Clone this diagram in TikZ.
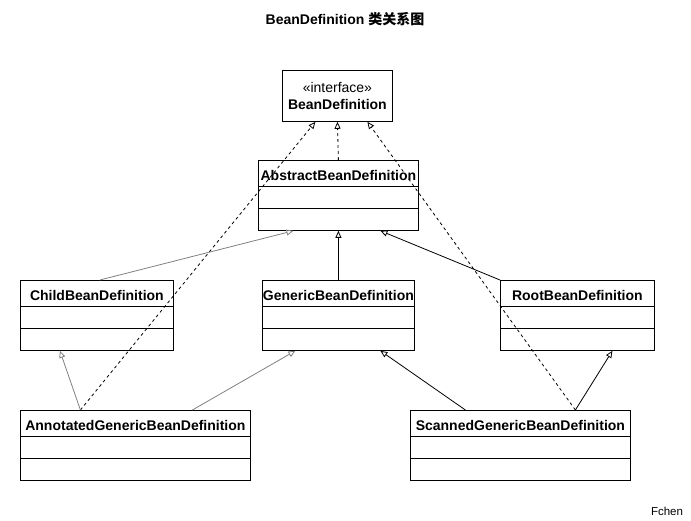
\documentclass[tikz,border=0pt]{standalone}
\usepackage{fontspec}
\setmainfont{Liberation Sans}
\newfontfamily\cjk{Noto Sans CJK SC}
\usepackage{tikz}
\usetikzlibrary{arrows.meta, positioning, calc}

\tikzset{
    umlbox/.style={draw, line width=0.8pt, inner sep=0pt, minimum height=70pt, anchor=north west},
    classname/.style={font=\fontsize{14}{16}\selectfont\bfseries},
    inherit/.style={line width=0.8pt, -{Triangle[open, length=7pt, width=6pt]}},
    realize/.style={inherit, dash pattern=on 3pt off 3pt}
}

\begin{document}
\begin{tikzpicture}[x=1pt, y=-1pt]
\useasboundingbox (0,0) rectangle (691,521);

% Title
\node[classname] (title) at (345,19) {BeanDefinition {\cjk 类关系图}};

% Interface
\node[draw, line width=0.8pt, minimum width=110pt, minimum height=51pt, anchor=north west,
      align=center, font=\fontsize{14}{17}\selectfont] (iface) at (282,70)
      {«interface»\\\textbf{BeanDefinition}};

% Classes: name/x/y/width/title
\foreach \name/\x/\y/\w/\title in {abs/258/160/160/AbstractBeanDefinition,
    child/20/280/153/ChildBeanDefinition, gen/262/280/152/GenericBeanDefinition,
    root/500/280/154/RootBeanDefinition, ann/20/410/230/AnnotatedGenericBeanDefinition,
    scan/410/410/220/ScannedGenericBeanDefinition} {
    \node[umlbox, minimum width=\w pt] (\name) at (\x,\y) {};
    \node[classname] (\name-title) at ([yshift=-15pt]\name.north) {\title};
    \draw[line width=0.8pt] ([yshift=-26pt]\name.north west) -- ([yshift=-26pt]\name.north east);
    \draw[line width=0.8pt] ([yshift=-48pt]\name.north west) -- ([yshift=-48pt]\name.north east);
}

% Realization
\draw[realize] (abs.north) -- (iface.south);
\draw[realize] ([xshift=-55pt]ann.north) -- ([xshift=-22pt]iface.south);
\draw[realize] ([xshift=55pt]scan.north) -- ([xshift=30pt]iface.south);

% Inheritance
\draw[inherit, gray] ([xshift=3pt]child.north) -- ([xshift=-45pt]abs.south);
\draw[inherit] (gen.north) -- (abs.south);
\draw[inherit] (root.north west) -- ([xshift=42pt]abs.south);
\draw[inherit, gray] ([xshift=-55pt]ann.north) -- ([xshift=-37pt]child.south);
\draw[inherit, gray] ([xshift=57pt]ann.north) -- ([xshift=-43pt]gen.south);
\draw[inherit] ([xshift=-55pt]scan.north) -- ([xshift=42pt]gen.south);
\draw[inherit] ([xshift=55pt]scan.north) -- ([xshift=35pt]root.south);

% Author
\node[font=\fontsize{11.5}{13}\selectfont] (author) at (667,511) {Fchen};
\end{tikzpicture}
\end{document}
